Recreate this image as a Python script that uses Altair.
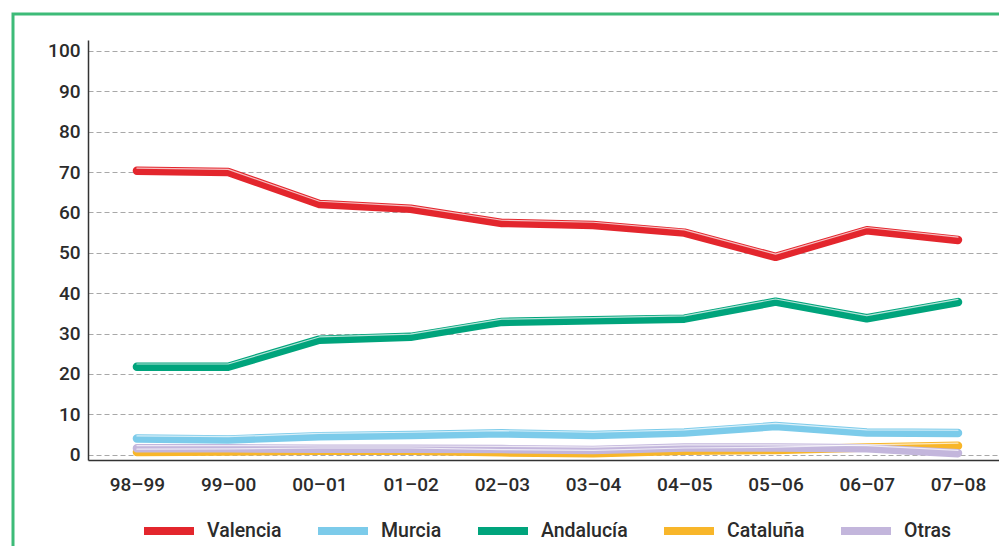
import altair as alt
import pandas as pd

seasons = ["98–99", "99–00", "00–01", "01–02", "02–03", "03–04", "04–05", "05–06", "06–07", "07–08"]
series_names = ["Valencia", "Murcia", "Andalucía", "Cataluña", "Otras"]
valencia = [70.3, 70.0, 62.1, 60.9, 57.4, 56.9, 55.0, 49.0, 55.6, 53.2]
murcia = [4.0, 3.8, 4.6, 4.9, 5.3, 4.9, 5.5, 7.1, 5.5, 5.4]
andalucia = [21.8, 21.8, 28.5, 29.2, 32.9, 33.3, 33.7, 37.9, 33.8, 37.8]
cataluna = [0.7, 0.8, 1.0, 1.0, 0.6, 0.4, 1.0, 1.2, 1.8, 2.2]
otras = [1.6, 1.6, 1.5, 1.5, 1.4, 1.2, 1.8, 1.8, 1.6, 0.4]
colors = ["#e3262d", "#7ccbea", "#00a47c", "#f8b62a", "#c3b6dc"]
y_ticks = [0, 10, 20, 30, 40, 50, 60, 70, 80, 90, 100]

all_values = [valencia, murcia, andalucia, cataluna, otras]
rows = []
for order, (name, vals) in enumerate(zip(series_names, all_values)):
    for s, v in zip(seasons, vals):
        rows.append({"temporada": s, "serie": name, "valor": v, "orden": order})
df = pd.DataFrame(rows)

FONT = "Roboto"
TXT = "#2b2b2b"

x_scale = alt.Scale(type="point", padding=0.493, align=0.544)

x_enc = alt.X("temporada:N", sort=seasons, scale=x_scale,
              axis=alt.Axis(title=None, labelAngle=0, ticks=False, domainColor="#333333",
                            domainWidth=1.5, labelFontSize=19, labelFont=FONT,
                            labelFontWeight=500, labelColor=TXT, labelPadding=15,
                            grid=False))
y_enc = alt.Y("valor:Q",
              scale=alt.Scale(domain=[-1.3, 102.7], nice=False, zero=False),
              axis=alt.Axis(title=None, values=y_ticks, ticks=False, domainColor="#333333",
                            domainWidth=1.5, labelFontSize=19, labelFont=FONT,
                            labelFontWeight=500, labelColor=TXT, labelPadding=8,
                            grid=True, gridColor="#a8a8a8", gridDash=[5, 3], gridWidth=1))

color_enc = alt.Color("serie:N", sort=series_names,
                      scale=alt.Scale(domain=series_names, range=colors),
                      legend=alt.Legend(title=None, orient="none", legendX=52, legendY=462,
                                        direction="horizontal", columns=5,
                                        symbolType="stroke", symbolSize=2500,
                                        symbolStrokeWidth=8, columnPadding=20,
                                        labelOffset=9, labelFontSize=19.5, labelFont=FONT,
                                        labelFontWeight=500, labelColor=TXT))

base = alt.Chart(df)

lines = base.mark_line(strokeWidth=8.5, strokeCap="round", strokeJoin="round").encode(
    x=x_enc, y=y_enc, color=color_enc, order="orden:Q", detail="serie:N"
)

highlight = base.mark_line(strokeWidth=1.2, color="white", opacity=0.7, yOffset=-2.7,
                           strokeCap="round", strokeJoin="round").encode(
    x=alt.X("temporada:N", sort=seasons, scale=x_scale), y="valor:Q", detail="serie:N"
)

border = alt.Chart(pd.DataFrame({"a": [0]})).mark_rect(
    filled=False, stroke="#3dbb78", strokeWidth=3
).encode(x=alt.value(-75), x2=alt.value(960), y=alt.value(-26), y2=alt.value(620))

chart = alt.layer(border, lines, highlight).properties(
    width=911, height=420,
    autosize=alt.AutoSizeParams(type="none"),
    padding={"left": 80, "top": 32, "right": 0, "bottom": 86},
).configure_view(stroke=None)

chart.save("out.html", embed_options={"renderer": "svg", "actions": False})
